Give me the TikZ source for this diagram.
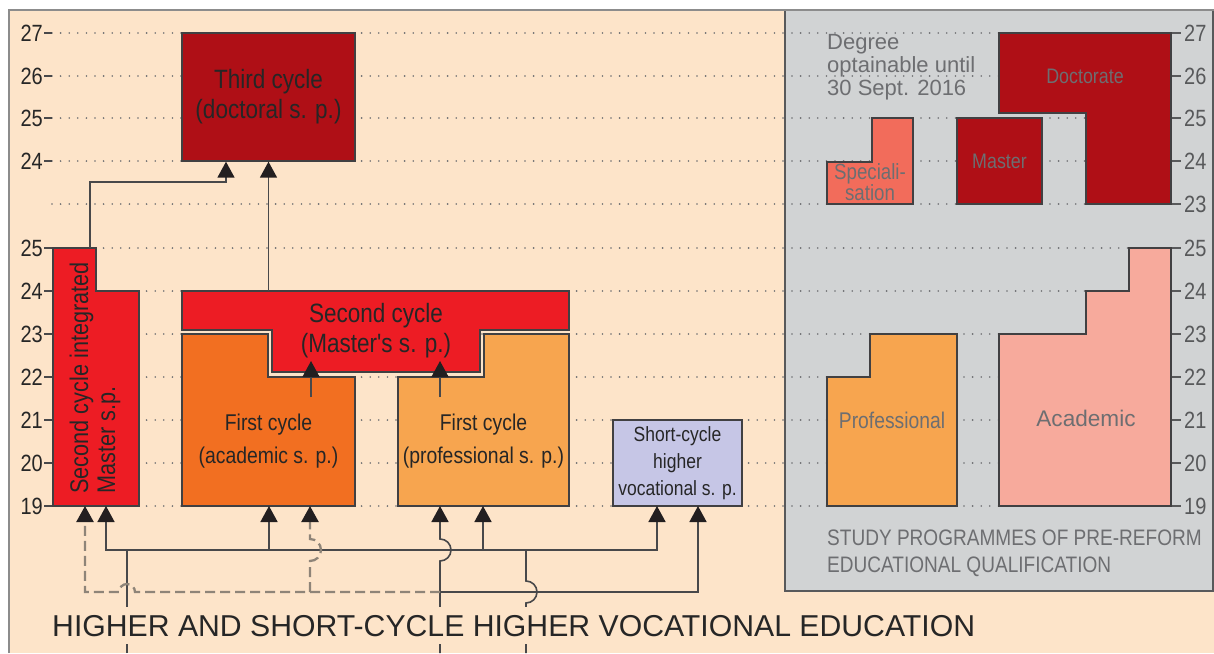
\documentclass[tikz,border=0pt]{standalone}
\usepackage{fontspec}
\setmainfont{Liberation Sans}
\newfontfamily\narrowsf[FakeStretch=0.85]{Liberation Sans}
\usepackage{tikz}
\usetikzlibrary{
  arrows.meta,
  positioning
}
\definecolor{beige}{HTML}{FDE4C9}
\definecolor{panelc}{HTML}{D1D3D4}
\definecolor{panelline}{HTML}{58595B}
\definecolor{framec}{HTML}{8C8C8C}
\definecolor{dred}{HTML}{AF0F16}
\definecolor{bred}{HTML}{ED1C24}
\definecolor{orangeA}{HTML}{F26F21}
\definecolor{orangeP}{HTML}{F7A54F}
\definecolor{lavender}{HTML}{C6C6E6}
\definecolor{salmon}{HTML}{F26C5B}
\definecolor{pinkA}{HTML}{F7AA9C}
\definecolor{boxline}{HTML}{414042}
\definecolor{connc}{HTML}{48484A}
\definecolor{dashc}{HTML}{8E8478}
\definecolor{dotc}{HTML}{6D6E71}
\definecolor{txt}{HTML}{262626}
\definecolor{graytxt}{HTML}{6D6E71}
\definecolor{tipc}{HTML}{231F20}

\begin{document}
\begin{tikzpicture}[x=1pt,y=-1pt,
      box/.style={
         draw=boxline,
         line width=1.4pt
      },
      lbl/.style={
         inner sep=0pt,
         align=center,
         text=txt,
         font=\narrowsf\fontsize{26.5}{30}\selectfont
      },
      small lbl/.style={lbl,font=\narrowsf\fontsize{22.8}{33}\selectfont},
      panel lbl/.style={
         inner sep=0pt,
         align=center,
         text=graytxt,
         font=\narrowsf\fontsize{21}{20}\selectfont
      },
      dots/.style={draw=dotc,line width=1.8pt,line cap=round,dash pattern=on 0pt off 8.6pt},
      tick/.style={draw=connc,line width=1.4pt},
      conn/.style={draw=connc,line width=1.6pt},
      dline/.style={draw=dashc,line width=2.3pt,dash pattern=on 10pt off 5pt},
      tip/.style={-{Triangle[length=16pt,width=17pt,color=tipc]}},
      yrl/.style={anchor=east,inner sep=0pt,text=txt,font=\narrowsf\fontsize{23.5}{24}\selectfont},
      yrr/.style={anchor=west,inner sep=0pt,text=panelline,font=\narrowsf\fontsize{23.5}{24}\selectfont}
    ]
  \useasboundingbox (0,0) rectangle (1214,653);
  \fill[beige] (9,10) rectangle (1214,653);
  \filldraw[fill=panelc,draw=panelline,line width=2pt] (785,10) -- (785,591) -- (1213,591) -- (1213,10);
  \draw[framec,line width=2.5pt] (9,653) -- (9,10) -- (1214,10);

  % year levels
  \draw[dots] (52,33) -- (783,33) (792,33) -- (1171,33);
  \draw[dots] (52,76) -- (783,76) (792,76) -- (1171,76);
  \draw[dots] (52,118) -- (783,118) (792,118) -- (1171,118);
  \draw[dots] (52,161) -- (783,161) (792,161) -- (1171,161);
  \draw[dots] (52,204) -- (783,204) (792,204) -- (1171,204);
  \draw[dots] (52,248) -- (783,248) (792,248) -- (1171,248);
  \draw[dots] (52,291) -- (783,291) (792,291) -- (1171,291);
  \draw[dots] (52,334) -- (783,334) (792,334) -- (1171,334);
  \draw[dots] (52,377) -- (783,377) (792,377) -- (1171,377);
  \draw[dots] (52,420) -- (783,420) (792,420) -- (1171,420);
  \draw[dots] (52,463) -- (783,463) (792,463) -- (1171,463);
  \draw[dots] (52,506) -- (783,506) (792,506) -- (1171,506);

  \node (l27) [yrl] at (43,33) {27};   \draw[tick] (44,33) -- (52,33);
  \node (l26) [yrl] at (43,76) {26};   \draw[tick] (44,76) -- (52,76);
  \node (l25) [yrl] at (43,118) {25};  \draw[tick] (44,118) -- (52,118);
  \node (l24) [yrl] at (43,161) {24};  \draw[tick] (44,161) -- (52,161);
  \node (m25) [yrl] at (43,248) {25};  \draw[tick] (44,248) -- (52,248);
  \node (m24) [yrl] at (43,291) {24};  \draw[tick] (44,291) -- (52,291);
  \node (m23) [yrl] at (43,334) {23};  \draw[tick] (44,334) -- (52,334);
  \node (m22) [yrl] at (43,377) {22};  \draw[tick] (44,377) -- (52,377);
  \node (m21) [yrl] at (43,420) {21};  \draw[tick] (44,420) -- (52,420);
  \node (m20) [yrl] at (43,463) {20};  \draw[tick] (44,463) -- (52,463);
  \node (m19) [yrl] at (43,506) {19};  \draw[tick] (44,506) -- (52,506);

  \node (r27) [yrr] at (1184,33) {27};  \draw[tick,panelline] (1171,33) -- (1181,33);
  \node (r26) [yrr] at (1184,76) {26};  \draw[tick,panelline] (1171,76) -- (1181,76);
  \node (r25) [yrr] at (1184,118) {25}; \draw[tick,panelline] (1171,118) -- (1181,118);
  \node (r24) [yrr] at (1184,161) {24}; \draw[tick,panelline] (1171,161) -- (1181,161);
  \node (r23) [yrr] at (1184,204) {23}; \draw[tick,panelline] (1171,204) -- (1181,204);
  \node (s25) [yrr] at (1184,248) {25}; \draw[tick,panelline] (1171,248) -- (1181,248);
  \node (s24) [yrr] at (1184,291) {24}; \draw[tick,panelline] (1171,291) -- (1181,291);
  \node (s23) [yrr] at (1184,334) {23}; \draw[tick,panelline] (1171,334) -- (1181,334);
  \node (s22) [yrr] at (1184,377) {22}; \draw[tick,panelline] (1171,377) -- (1181,377);
  \node (s21) [yrr] at (1184,420) {21}; \draw[tick,panelline] (1171,420) -- (1181,420);
  \node (s20) [yrr] at (1184,463) {20}; \draw[tick,panelline] (1171,463) -- (1181,463);
  \node (s19) [yrr] at (1184,506) {19}; \draw[tick,panelline] (1171,506) -- (1181,506);

  % new study programmes
  \node (third) [box,fill=dred,lbl,minimum width=173pt,minimum height=128pt] at (268.5,97)
     {Third cycle\\(doctoral s. p.)};
  \filldraw[box,fill=bred] (53,506) -- (53,248) -- (96,248) -- (96,291) -- (139,291) -- (139,506) -- cycle;
  \node (integ) [lbl,align=left,rotate=90,font=\narrowsf\fontsize{25.5}{27}\selectfont] at (95,378)
     {Second cycle integrated\\Master s.p.};
  \filldraw[box,fill=bred] (182,291) -- (569,291) -- (569,330) -- (480,330) -- (480,372)
     -- (272,372) -- (272,330) -- (182,330) -- cycle;
  \node (second) [lbl] at (376,331) {Second cycle\\(Master's s. p.)};
  \filldraw[box,fill=orangeA] (182,506) -- (182,334) -- (268,334) -- (268,377) -- (355,377) -- (355,506) -- cycle;
  \node (firstac) [small lbl] at (268.5,441) {First cycle\\(academic s. p.)};
  \filldraw[box,fill=orangeP] (398,506) -- (398,377) -- (484,377) -- (484,334) -- (569,334) -- (569,506) -- cycle;
  \node (firstpr) [small lbl] at (483.5,441) {First cycle\\(professional s. p.)};
  \node (short) [box,fill=lavender,lbl,font=\narrowsf\fontsize{20.6}{27}\selectfont,
     minimum width=129pt,minimum height=86pt] at (677.5,463) {Short-cycle\\higher\\vocational s. p.};

  % pre-reform programmes
  \filldraw[box,fill=salmon] (827,204) -- (827,162) -- (872,162) -- (872,118) -- (913,118) -- (913,204) -- cycle;
  \node (spec) [panel lbl,font=\narrowsf\fontsize{22}{20}\selectfont] at (870,182) {Speciali-\\sation};
  \node (master) [box,fill=dred,panel lbl,minimum width=85pt,minimum height=86pt] at (999.5,161) {Master};
  \filldraw[box,fill=dred] (999,33) -- (1171,33) -- (1171,204) -- (1086,204) -- (1086,113) -- (999,113) -- cycle;
  \node (doct) [panel lbl] at (1085,76) {Doctorate};
  \filldraw[box,fill=orangeP] (827,506) -- (827,377) -- (870,377) -- (870,334) -- (957,334) -- (957,506) -- cycle;
  \node (prof) [panel lbl,font=\narrowsf\fontsize{22.7}{24}\selectfont] at (892,420) {Professional};
  \filldraw[box,fill=pinkA] (999,506) -- (999,334) -- (1086,334) -- (1086,291) -- (1129,291) -- (1129,248)
     -- (1171,248) -- (1171,506) -- cycle;
  \node (acad) [panel lbl,font=\fontsize{22.6}{24}\selectfont] at (1086,418) {Academic};
  \node (degree) [anchor=north west,inner sep=0pt,align=left,text=graytxt,font=\fontsize{22}{23}\selectfont]
     at (827,34) {Degree\\optainable until\\30 Sept. 2016};
  \node (prereform) [anchor=north west,inner sep=0pt,align=left,text=graytxt,font=\narrowsf\fontsize{22.4}{27}\selectfont]
     at (827,530) {STUDY PROGRAMMES OF PRE-REFORM\\EDUCATIONAL QUALIFICATION};

  % connector ends
  \coordinate (integtop) at (90,248);
  \coordinate (secondtop) at (268.5,291);
  \coordinate (acup) at (311,397);
  \coordinate (acin) at (311,361);
  \coordinate (prup) at (440,397);
  \coordinate (prin) at (440,361);
  \coordinate (a1) at (85,506);
  \coordinate (a2) at (106,506);
  \coordinate (a3) at (269,506);
  \coordinate (a4) at (310,506);
  \coordinate (a5) at (440,506);
  \coordinate (a6) at (483,506);
  \coordinate (a7) at (657,506);
  \coordinate (a8) at (698,506);
  \coordinate (src1) at (127,653);
  \coordinate (src2) at (440,653);
  \coordinate (src3) at (526,653);

  \draw[conn,tip] (integtop) -- ++(0,-66) -| ([xshift=-42.5pt]third.south);
  \draw[conn,tip] (secondtop) -- (third.south);
  \draw[conn,tip] (acup) -- (acin);
  \draw[conn,tip] (prup) -- (prin);

  \draw[conn] (src1) -- (127,550);
  \draw[conn,tip] (127,550) -| (a2);
  \draw[conn,tip] (127,550) -| (a7);
  \draw[conn,tip] (269,550) -- (a3);
  \draw[conn,tip] (483,550) -- (a6);
  \draw[conn] (526,550) -- (526,581) arc[start angle=-90,end angle=90,radius=11] -- (src3);
  \draw[conn,tip] (src2) -- (440,561) arc[start angle=90,end angle=-90,radius=11] -- (a5);
  \draw[conn,tip] (440,592) -| (a8);
  \draw[dline,tip] (440,592) -- (135,592) arc[start angle=0,end angle=-180,radius=8] -| (a1);
  \draw[dline,tip] (310,592) -- (310,561) arc[start angle=90,end angle=-90,radius=11] -- (a4);

  \node (title) [anchor=base west,fill=beige,inner xsep=1pt,inner ysep=8pt,text=txt,font=\fontsize{30.2}{36}\selectfont]
     at (51,636) {HIGHER AND SHORT-CYCLE HIGHER VOCATIONAL EDUCATION};
\end{tikzpicture}
\end{document}
